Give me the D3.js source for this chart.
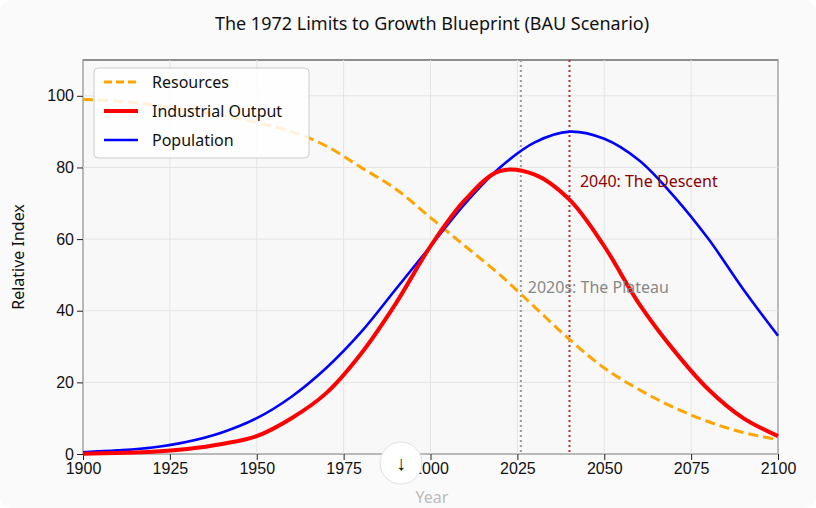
<!DOCTYPE html>
<html><head><meta charset="utf-8">
<script src="https://cdn.jsdelivr.net/npm/d3@7"></script>
<style>
body{margin:0;background:#fff;font-family:"Noto Sans",sans-serif}
</style></head><body>
<svg id="chart" width="816" height="508"></svg>
<script>
var years = [1900,1910,1920,1930,1940,1950,1960,1970,1980,1990,2000,2010,2020,2030,2040,2050,2060,2070,2080,2090,2100]
var resources = [99,98.5,97.5,96,94.5,92.5,90,86,80,74,66,58,50,41,32,24,18,13,9,6,4]
var industrial = [0.1,0.3,0.6,1.4,2.8,5,10,17,28,42,58,71,79,78,71,58,42,29,18,10,5]
var population = [0.5,1,1.8,3.4,6,10,16,24,34,46,58,70,80,87,90,88,82,72,60,46,33]
var xTicks = [1900,1925,1950,1975,2000,2025,2050,2075,2100]
var yTicks = [0,20,40,60,80,100]

var svg = d3.select("#chart")
var m = {l:83, r:38, t:60, b:54}
var w = 816-m.l-m.r, h = 508-m.t-m.b

svg.append("rect").attr("x",0).attr("y",0).attr("width",816).attr("height",508).attr("rx",12).attr("fill","#fafafa")

var x = d3.scaleLinear().domain([1900,2100]).range([m.l,m.l+w])
var y = d3.scaleLinear().domain([0,110]).range([m.t+h,m.t])

svg.append("rect").attr("x",m.l).attr("y",m.t).attr("width",w).attr("height",h).attr("fill","#f8f8f8").attr("stroke","#222").attr("stroke-width",1)

svg.append("g").selectAll("line").data(xTicks).enter().append("line")
  .attr("x1",d=>x(d)).attr("x2",d=>x(d)).attr("y1",m.t).attr("y2",m.t+h).attr("stroke","#e4e4e4")
svg.append("g").selectAll("line").data(yTicks).enter().append("line")
  .attr("y1",d=>y(d)).attr("y2",d=>y(d)).attr("x1",m.l).attr("x2",m.l+w).attr("stroke","#e4e4e4")

var xa = svg.append("g").attr("transform","translate(0,"+(m.t+h)+")")
  .call(d3.axisBottom(x).tickValues(xTicks).tickFormat(d3.format("d")).tickSizeOuter(0))
var ya = svg.append("g").attr("transform","translate("+m.l+",0)")
  .call(d3.axisLeft(y).tickValues(yTicks).tickSizeOuter(0))
;[xa,ya].forEach(function(a){
  a.select(".domain").remove()
  a.selectAll("text").attr("font-size",16).attr("fill","#111")
  a.selectAll("line").attr("stroke","#222")
})

svg.append("line").attr("x1",x(2026)).attr("x2",x(2026)).attr("y1",m.t).attr("y2",m.t+h)
  .attr("stroke","#999").attr("stroke-width",2).attr("stroke-dasharray","2,3")
svg.append("line").attr("x1",x(2040)).attr("x2",x(2040)).attr("y1",m.t).attr("y2",m.t+h)
  .attr("stroke","#b03030").attr("stroke-width",2).attr("stroke-dasharray","2,3")

var line = function(vals){
  return d3.line().x((d,i)=>x(years[i])).y(d=>y(d)).curve(d3.curveCatmullRom)(vals)
}
svg.append("path").attr("d",line(resources)).attr("fill","none").attr("stroke","orange").attr("stroke-width",3).attr("stroke-dasharray","10,5")
svg.append("path").attr("d",line(population)).attr("fill","none").attr("stroke","blue").attr("stroke-width",2.6)
svg.append("path").attr("d",line(industrial)).attr("fill","none").attr("stroke","red").attr("stroke-width",4)

svg.append("text").attr("x",x(2043)).attr("y",y(76)).attr("dy","0.35em").attr("font-size",16).attr("fill","darkred").text("2040: The Descent")
svg.append("text").attr("x",x(2028)).attr("y",y(46.5)).attr("dy","0.35em").attr("font-size",16).attr("fill","#888").text("2020s: The Plateau")

var lg = svg.append("g").attr("transform","translate(94,68)")
lg.append("rect").attr("width",215).attr("height",90).attr("rx",4).attr("fill","#fff").attr("fill-opacity",0.85).attr("stroke","#ccc")
var items = [["Resources","orange",3,"8,4"],["Industrial Output","red",4,null],["Population","blue",2.6,null]]
items.forEach(function(it,i){
  var yy = 14+i*29
  lg.append("line").attr("x1",10).attr("x2",44).attr("y1",yy).attr("y2",yy).attr("stroke",it[1]).attr("stroke-width",it[2]).attr("stroke-dasharray",it[3])
  lg.append("text").attr("x",58).attr("y",yy).attr("dy","0.35em").attr("font-size",16).attr("fill","#111").text(it[0])
})

svg.append("text").attr("x",432).attr("y",24).attr("dy","0.35em").attr("text-anchor","middle").attr("font-size",18).attr("fill","#111").text("The 1972 Limits to Growth Blueprint (BAU Scenario)")
svg.append("text").attr("transform","translate(18,"+(m.t+h/2)+") rotate(-90)").attr("dy","0.35em").attr("text-anchor","middle").attr("font-size",16).attr("fill","#111").text("Relative Index")
svg.append("text").attr("x",432).attr("y",497).attr("dy","0.35em").attr("text-anchor","middle").attr("font-size",16).attr("fill","#bbb").text("Year")

svg.append("circle").attr("cx",401).attr("cy",463).attr("r",21).attr("fill","#fff").attr("stroke","#e0e0e0")
svg.append("text").attr("x",401).attr("y",463).attr("dy","0.35em").attr("text-anchor","middle").attr("font-size",20).attr("fill","#111").text("↓")
</script></body></html>
